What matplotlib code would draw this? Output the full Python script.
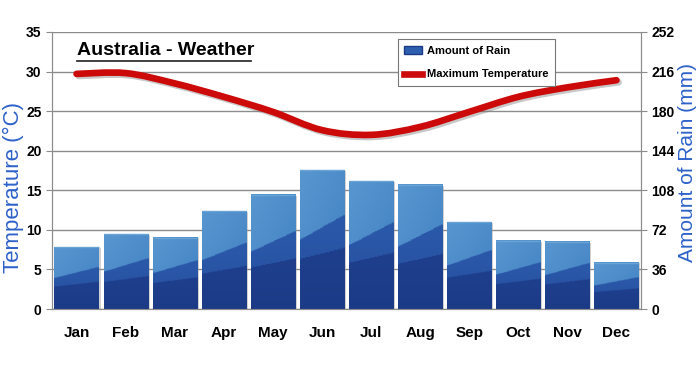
import numpy as np
import matplotlib
matplotlib.use("Agg")
import matplotlib.pyplot as plt
from matplotlib.path import Path
from matplotlib.patches import PathPatch, Rectangle, Patch
from matplotlib.lines import Line2D
from matplotlib.colors import LinearSegmentedColormap
import matplotlib.patheffects as pe

plt.rcParams["font.family"] = ["Liberation Sans", "DejaVu Sans"]

months = ["Jan", "Feb", "Mar", "Apr", "May", "Jun",
          "Jul", "Aug", "Sep", "Oct", "Nov", "Dec"]
rain_mm = [56, 68, 65, 89, 104, 126, 116, 113, 79, 62, 61, 42]
max_temp = [29.7, 29.8, 28.5, 26.8, 24.9, 22.6, 22.0, 23.0, 24.9, 26.8, 28.0, 28.9]
temp_ticks = [0, 5, 10, 15, 20, 25, 30, 35]
rain_ticks = [0, 36, 72, 108, 144, 180, 216, 252]

fig = plt.figure(figsize=(7, 3.67), dpi=100)
ax = fig.add_axes([0.0743, 0.158, 0.8414, 0.755])
ax2 = ax.twinx()

x = np.arange(len(months))
bw = 0.9

# gradient bars on the rain axis
cmap = LinearSegmentedColormap.from_list(
    "rain", ["#1c3b87", "#24499c", "#2f62b0", "#4382c3", "#5796cf"])
for i, h in enumerate(rain_mm):
    u = np.linspace(0, 1, 40)[None, :]
    v = np.linspace(0, 1, 120)[:, None]
    b1 = 0.36 + 0.08 * u
    b2 = 0.50 + 0.18 * u
    img = 0.15 * v
    img = img + np.where(v > b1, 0.25, 0.0) + np.where(v > b2, 0.35, 0.0)
    img = img + 0.1 * (1 - u) * (v > b2)
    ax2.add_patch(Rectangle((x[i] - bw / 2 + 0.04, 0), bw, h - 0.8,
                            color="#9a9a9a", alpha=0.45, zorder=2, lw=0))
    ax2.imshow(img, cmap=cmap, vmin=0, vmax=0.85, origin="lower",
               extent=[x[i] - bw / 2, x[i] + bw / 2, 0, h],
               aspect="auto", zorder=3, interpolation="bilinear")
    ax2.plot([x[i] - bw / 2, x[i] + bw / 2], [h, h], color="#6aa3d6",
             lw=1, zorder=4, solid_capstyle="butt")
ax2.set_aspect("auto")
ax2.set_xlim(-0.5, 11.5)
ax2.set_ylim(0, 252)
ax2.set_yticks(rain_ticks)
ax2.yaxis.grid(True, color="#8c8c8c", lw=1)
ax2.set_axisbelow(True)

# smooth temperature line (Catmull-Rom as Bezier path)
pts = np.column_stack([x, max_temp]).astype(float)
ext = np.vstack([pts[0], pts, pts[-1]])
verts = [tuple(pts[0])]
codes = [Path.MOVETO]
for k in range(1, len(ext) - 2):
    p0, p1, p2, p3 = ext[k - 1], ext[k], ext[k + 1], ext[k + 2]
    c1 = p1 + (p2 - p0) / 6
    c2 = p2 - (p3 - p1) / 6
    verts += [tuple(c1), tuple(c2), tuple(p2)]
    codes += [Path.CURVE4] * 3
ax.set_zorder(ax2.get_zorder() + 1)
ax.patch.set_visible(False)
line = PathPatch(Path(verts, codes), fill=False, edgecolor="#cc0a0a", lw=4.8,
                 capstyle="round", zorder=5)
line.set_path_effects([pe.SimpleLineShadow(offset=(1.5, -1.5), shadow_color="#777777", alpha=0.4),
                       pe.Normal()])
ax.add_patch(line)
ax.set_xlim(-0.5, 11.5)
ax.set_ylim(0, 35)
ax.set_yticks(temp_ticks)
ax.set_xticks(x)
ax.set_xticklabels(months, fontsize=11, fontweight="bold")
ax.tick_params(axis="x", length=0, pad=12)
ax.tick_params(axis="y", labelsize=10, length=4, color="#8c8c8c")
ax2.tick_params(axis="y", labelsize=10, length=4, color="#8c8c8c")
for t in ax.get_yticklabels() + ax2.get_yticklabels():
    t.set_fontweight("bold")

for a in (ax, ax2):
    for s in a.spines.values():
        s.set_color("#8c8c8c")
ax.spines["top"].set_visible(False)
ax2.spines["top"].set_visible(False)

ax.set_ylabel("Temperature (°C)", color="#2e62c9", fontsize=16)
ax.yaxis.set_label_coords(-0.047, 0.44)
ax2.set_ylabel("Amount of Rain (mm)", color="#2e62c9", fontsize=15)
ax2.yaxis.set_label_coords(1.063, 0.527)

fig.text(0.11, 0.862, "Australia - Weather", fontsize=14, fontweight="bold", va="center")
fig.add_artist(Line2D([0.11, 0.358], [0.834, 0.834], color="#333333", lw=1.3))

# legend
handles = [Patch(facecolor="#2e5fae", edgecolor="#1b3a86"),
           Line2D([0], [0], color="#cc0a0a", lw=4.8)]
leg = ax.legend(handles, ["Amount of Rain", "Maximum Temperature"],
                loc="upper left", bbox_to_anchor=(0.587, 0.975), fancybox=False,
                framealpha=1, edgecolor="#777777", handlelength=1.6,
                handletextpad=0.4, labelspacing=1.25, borderaxespad=0,
                prop={"weight": "bold", "size": 8.0}, borderpad=0.6)
leg.get_frame().set_linewidth(0.8)

fig.savefig("out.png", dpi=100)
